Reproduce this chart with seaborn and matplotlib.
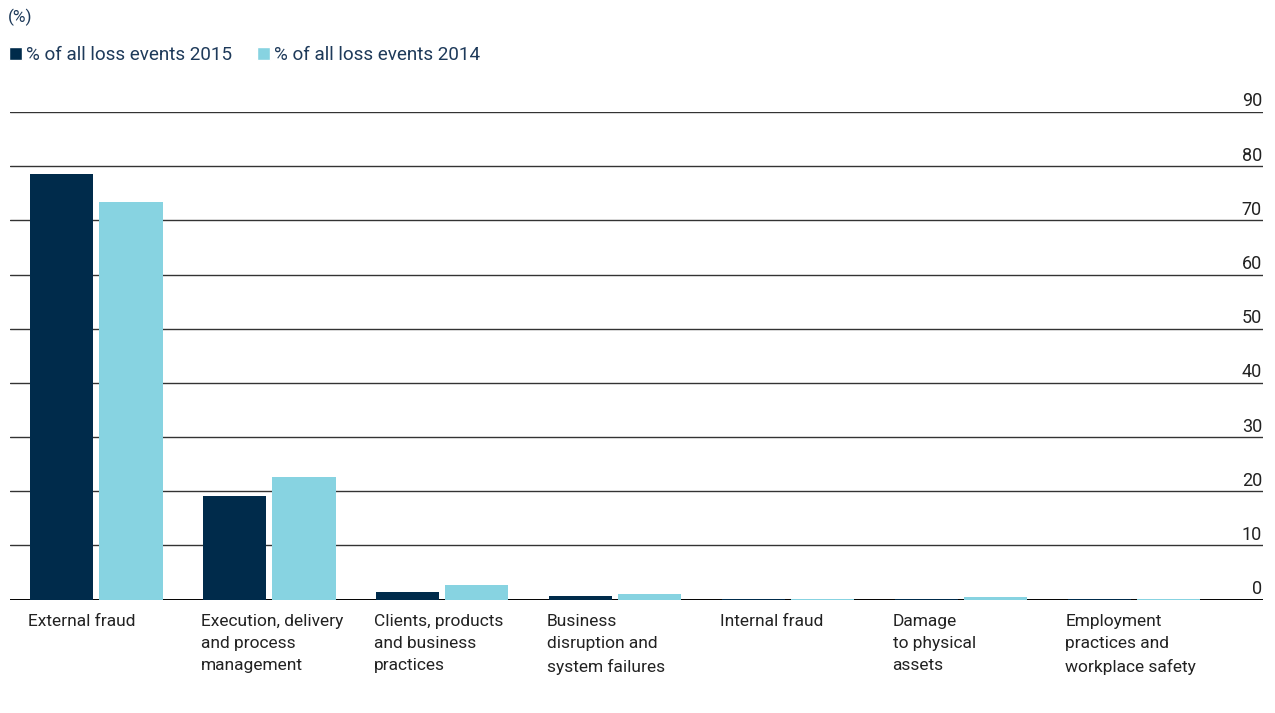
import matplotlib
matplotlib.use("Agg")
import matplotlib.pyplot as plt
import matplotlib.transforms as mtransforms
from matplotlib.patches import Patch
import pandas as pd
import seaborn as sns

# Loss events by event type, share of all events (%)
categories = [
    "External fraud",
    "Execution, delivery\nand process\nmanagement",
    "Clients, products\nand business\npractices",
    "Business\ndisruption and\nsystem failures",
    "Internal fraud",
    "Damage\nto physical\nassets",
    "Employment\npractices and\nworkplace safety",
]
share_2015 = [78.5, 19.2, 1.3, 0.6, 0.15, 0.1, 0.1]
share_2014 = [73.4, 22.7, 2.6, 1.0, 0.15, 0.4, 0.15]
series_labels = ["% of all loss events 2015", "% of all loss events 2014"]
y_ticks = [0, 10, 20, 30, 40, 50, 60, 70, 80, 90]

NAVY = "#002b4b"
LIGHT = "#87d3e1"
TEXT_NAVY = "#1e3a5a"
TEXT_DARK = "#222222"

df = pd.DataFrame({
    "category": categories * 2,
    "share": share_2015 + share_2014,
    "series": [series_labels[0]] * len(categories) + [series_labels[1]] * len(categories),
})

sns.set_theme(style="white")
plt.rcParams["font.family"] = ["Roboto", "DejaVu Sans"]

W, H = 1275, 713
fig = plt.figure(figsize=(W / 100, H / 100), dpi=100)
ax = fig.add_axes([10 / W, 1 - 599.5 / H, (1263 - 10) / W, (599.5 - 112) / H])

sns.barplot(
    data=df, x="category", y="share", hue="series",
    order=categories, hue_order=series_labels,
    palette=[NAVY, LIGHT], saturation=1,
    width=0.8, gap=0.087, legend=False, ax=ax, zorder=2,
    linewidth=0, edgecolor="none",
)

ax.set_xlim(-0.5, 6.746)
ax.set_ylim(0, 90)
ax.set_xlabel("")
ax.set_ylabel("")
for s in ax.spines.values():
    s.set_visible(False)

# horizontal gridlines behind the bars
ax.set_yticks(y_ticks)
ax.set_yticklabels([])
ax.tick_params(axis="y", length=0)
for v in y_ticks:
    ax.axhline(v, color="black" if v == 0 else "#333333",
               lw=1.4 if v == 0 else 1.0, zorder=1)

# value labels sitting on the right end of each gridline
ylab_tf = mtransforms.blended_transform_factory(ax.transAxes, ax.transData)
for v in y_ticks:
    ax.text(1.0, v, str(v), transform=ylab_tf + mtransforms.ScaledTranslation(-0.01, 0.015, fig.dpi_scale_trans),
            ha="right", va="bottom", fontsize=13, color=TEXT_DARK)

# category labels, left aligned under the first bar of each group
ax.set_xticks(range(len(categories)))
ax.set_xticklabels(categories, ha="left", va="top", linespacing=1.6,
                   fontsize=12.5, color=TEXT_DARK)
ax.tick_params(axis="x", length=0, pad=10.5)
shift = mtransforms.ScaledTranslation(-0.685, 0, fig.dpi_scale_trans)
for lbl in ax.get_xticklabels():
    lbl.set_transform(lbl.get_transform() + shift)

# unit and legend
fig.text(8 / W, 1 - 17 / H, "(%)", ha="left", va="center", fontsize=12.5, color=TEXT_NAVY)
handles = [Patch(facecolor=NAVY, label=series_labels[0]),
           Patch(facecolor=LIGHT, label=series_labels[1])]
fig.legend(handles=handles, loc="center left", bbox_to_anchor=(9 / W, 1 - 55 / H),
           ncol=2, frameon=False, fontsize=13.6, labelcolor=TEXT_NAVY,
           handlelength=0.68, handleheight=0.68, handletextpad=0.22,
           columnspacing=1.3, borderpad=0, borderaxespad=0)

fig.savefig("out.png", dpi=100)
